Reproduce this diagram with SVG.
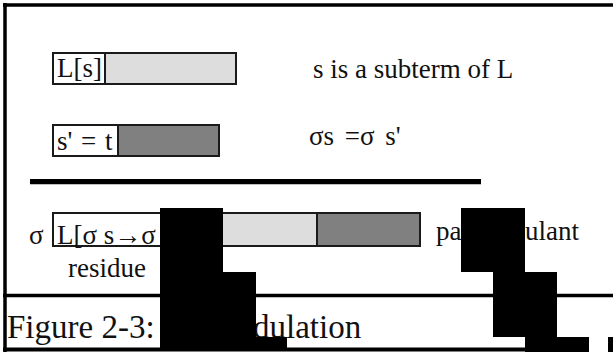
<svg xmlns="http://www.w3.org/2000/svg" width="613" height="352" viewBox="0 0 613 352">
  <style>
    .t { font-family: "Liberation Serif", "Times New Roman", serif; font-size: 27px; fill: #111; }
    .cap { font-family: "Liberation Serif", "Times New Roman", serif; font-size: 33px; fill: #111; }
    .cell { stroke: #1a1a1a; stroke-width: 2; }
    .white { fill: #ffffff; }
    .light { fill: #dddddd; }
    .dark { fill: #808080; }
    .rule { stroke: #000; fill: none; }
    .mask { fill: #000; }
  </style>

  <rect x="0" y="0" width="613" height="352" fill="#ffffff"/>

  <!-- frame -->
  <g id="frame">
    <line class="rule" x1="3" y1="5" x2="613" y2="5" stroke-width="3.5"/>
    <line class="rule" x1="5" y1="3" x2="5" y2="352" stroke-width="3.5"/>
    <line class="rule" x1="3" y1="295.5" x2="613" y2="295.5" stroke-width="3.5"/>
    <line class="rule" x1="3" y1="349.5" x2="613" y2="349.5" stroke-width="4"/>
  </g>

  <!-- term L[s] with its subterm -->
  <g id="term-L">
    <rect class="cell white" x="53" y="53" width="52" height="31"/>
    <rect class="cell light" x="105" y="53" width="131" height="31"/>
    <text class="t" x="57" y="77">L[s]</text>
  </g>
  <text class="t" x="313" y="78">s is a subterm of L</text>

  <!-- equation s' = t -->
  <g id="eq-s">
    <rect class="cell white" x="53" y="125" width="65" height="31"/>
    <rect class="cell dark" x="118" y="125" width="101" height="31"/>
    <text class="t" x="57" y="150" word-spacing="2">s' = t</text>
  </g>
  <text class="t" x="309" y="145" word-spacing="4">σs =σ s'</text>

  <!-- divider -->
  <line class="rule" x1="30" y1="181.7" x2="481" y2="181.7" stroke-width="5.3"/>

  <!-- result term -->
  <text class="t" x="29" y="244">σ</text>
  <g id="term-result">
    <rect class="cell white" x="53" y="213" width="147" height="33"/>
    <rect class="cell light" x="200" y="213" width="117" height="33"/>
    <rect class="cell dark" x="317" y="213" width="103" height="33"/>
    <text class="t" x="57" y="244">L[σ s→σ</text>
  </g>
  <text class="t" x="436" y="240">pa</text>
  <text class="t" x="525" y="240">ulant</text>
  <text class="t" x="68" y="277">residue</text>

  <!-- caption -->
  <text class="cap" x="7" y="338">Figure 2-3: </text>
  <text class="cap" x="253" y="338">dulation</text>

  <!-- blacked-out blocks -->
  <g id="masks">
    <rect class="mask" x="160" y="208" width="63" height="64"/>
    <rect class="mask" x="160" y="272" width="96" height="65"/>
    <rect class="mask" x="160" y="337" width="127" height="11"/>
    <rect class="mask" x="461" y="208" width="64" height="64"/>
    <rect class="mask" x="493" y="272" width="64" height="65"/>
    <rect class="mask" x="525" y="337" width="64" height="15"/>
    <rect x="589" y="337" width="19" height="15" fill="#ffffff"/>
    <rect class="mask" x="608" y="337" width="5" height="15"/>
  </g>
</svg>
